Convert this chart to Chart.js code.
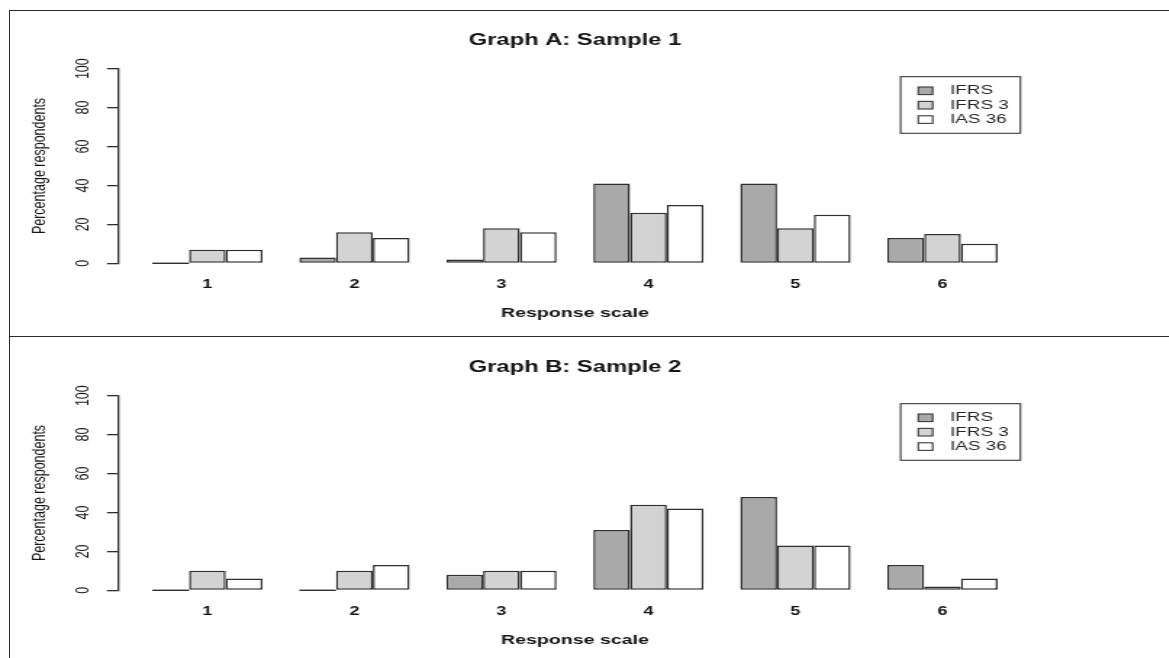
<!DOCTYPE html>
<html>
<head>
<meta charset="utf-8">
<title>Response scale by sample</title>
<script src="https://cdn.jsdelivr.net/npm/chart.js@4.4.1/dist/chart.umd.min.js"></script>
<style>
    html, body { margin: 0; padding: 0; background: #fff; }
    body { width: 1169px; height: 658px; overflow: hidden; position: relative; }
    /* the source picture is stretched sideways, so each chart is drawn narrow and widened */
    .panel { position: absolute; left: 0; width: 806px; height: 327px; transform: scaleX(1.45); transform-origin: 0 0; }
    .frame { position: absolute; left: 9px; width: 1300px; border-left: 1.5px solid #2a2a2a; border-top: 1.5px solid #2a2a2a; }
</style>
</head>
<body>
<div class="frame" style="top:10px; height:326px;"></div>
<div class="frame" style="top:336px; height:400px;"></div>
<div class="panel" style="top:0;"><canvas id="chartA" width="806" height="327"></canvas></div>
<div class="panel" style="top:327px;"><canvas id="chartB" width="806" height="327"></canvas></div>

<script>
// Data
const categories = ['1', '2', '3', '4', '5', '6'];
const seriesNames = ['IFRS', 'IFRS 3', 'IAS 36'];
const yTicks = [0, 20, 40, 60, 80, 100];

const sample1Ifrs = [0, 3, 2, 41, 41, 13];
const sample1Ifrs3 = [7, 16, 18, 26, 18, 15];
const sample1Ias36 = [7, 13, 16, 30, 25, 10];

const sample2Ifrs = [0, 0, 8, 31, 48, 13];
const sample2Ifrs3 = [10, 10, 10, 44, 23, 2];
const sample2Ias36 = [6, 13, 10, 42, 23, 6];

// Styles
const FONT = "'Liberation Sans', Arial, Helvetica, sans-serif";
const TEXT = '#141414';
const EDGE = '#2e2e2e';
const seriesFills = ['#a9a9a9', '#d3d3d3', '#ffffff'];

// R draws zero-height bars as a flat line on the baseline
const zeroBars = {
    id: 'zeroBars',
    afterDatasetsDraw(chart) {
        const ctx = chart.ctx;
        ctx.save();
        ctx.strokeStyle = EDGE;
        ctx.lineWidth = 1.4;
        chart.data.datasets.forEach((ds, d) => {
            chart.getDatasetMeta(d).data.forEach((bar, i) => {
                if (ds.data[i].y !== 0) return;
                ctx.beginPath();
                ctx.moveTo(bar.x - bar.width / 2, bar.base);
                ctx.lineTo(bar.x + bar.width / 2, bar.base);
                ctx.stroke();
            });
        });
        ctx.restore();
    }
};

// Boxed legend inside the plot, top right
const boxLegend = {
    id: 'boxLegend',
    afterDraw(chart) {
        const { ctx, chartArea } = chart;
        const w = 82.6, h = 56.6;
        const left = chartArea.right - 7.6 - w;
        const top = chartArea.top + 8;
        ctx.save();
        ctx.strokeStyle = '#3a3a3a';
        ctx.lineWidth = 1.1;
        ctx.strokeRect(left, top, w, h);
        ctx.font = `13px ${FONT}`;
        ctx.textBaseline = 'middle';
        chart.data.datasets.forEach((ds, i) => {
            const cy = top + 14.1 + i * 14.4;
            ctx.fillStyle = ds.backgroundColor;
            ctx.fillRect(left + 12.2, cy - 3.8, 9.9, 7.6);
            ctx.strokeRect(left + 12.2, cy - 3.8, 9.9, 7.6);
            ctx.fillStyle = '#262626';
            ctx.fillText(ds.label, left + 34.1, cy);
        });
        ctx.restore();
    }
};

function buildDatasets(series) {
    return series.map((values, s) => ({
        label: seriesNames[s],
        data: values.map((v, i) => ({ x: i + 1, y: v })),
        backgroundColor: seriesFills[s],
        borderColor: EDGE,
        borderWidth: 1.5,
        borderSkipped: false,
        categoryPercentage: 0.75,
        barPercentage: 1
    }));
}

function makeChart(canvasId, titleText, series) {
    const ctx = document.getElementById(canvasId).getContext('2d');
    return new Chart(ctx, {
        type: 'bar',
        data: { datasets: buildDatasets(series) },
        plugins: [zeroBars, boxLegend],
        options: {
            responsive: false,
            animation: false,
            events: [],
            layout: { padding: { left: 0, right: 94.7, top: 0, bottom: 0 } },
            plugins: {
                legend: { display: false },
                tooltip: { enabled: false },
                title: {
                    display: true,
                    text: titleText,
                    fullSize: false,
                    color: TEXT,
                    font: { family: FONT, size: 16.4, weight: 'bold', lineHeight: 1.2 },
                    padding: { top: 30.2, bottom: 18.8 }
                }
            },
            scales: {
                x: {
                    type: 'linear',
                    min: 0.395,
                    max: 6.605,
                    offset: false,
                    afterBuildTicks: (scale) => {
                        scale.ticks = categories.map((c, i) => ({ value: i + 1 }));
                    },
                    afterFit: (scale) => { scale.height = 63.7; },
                    grid: { display: false, drawTicks: false },
                    border: { display: false },
                    ticks: {
                        autoSkip: false,
                        maxRotation: 0,
                        padding: 14.2,
                        color: TEXT,
                        font: { family: FONT, size: 12.5, weight: 'bold', lineHeight: 1.2 },
                        callback: (value, index) => categories[index]
                    },
                    title: {
                        display: true,
                        text: 'Response scale',
                        color: TEXT,
                        font: { family: FONT, size: 13.5, weight: 'bold', lineHeight: 1.2 },
                        padding: { top: 0, bottom: 5.6 }
                    }
                },
                y: {
                    min: 0,
                    max: 100,
                    afterBuildTicks: (scale) => {
                        scale.ticks = yTicks.map(v => ({ value: v }));
                    },
                    afterFit: (scale) => { scale.width = 81.7; },
                    grid: { drawOnChartArea: false, drawTicks: true, tickLength: 7.9, color: EDGE, lineWidth: 1.3 },
                    border: { display: true, color: EDGE, width: 1.3 },
                    ticks: {
                        minRotation: 90,
                        maxRotation: 90,
                        crossAlign: 'center',
                        padding: 6.2,
                        color: TEXT,
                        font: { family: FONT, size: 12.5, lineHeight: 1.2 }
                    },
                    title: {
                        display: true,
                        text: 'Percentage respondents',
                        color: TEXT,
                        font: { family: FONT, size: 12.5, lineHeight: 1.2 },
                        padding: { top: 19.7, bottom: 0 }
                    }
                }
            }
        }
    });
}

makeChart('chartA', 'Graph A: Sample 1', [sample1Ifrs, sample1Ifrs3, sample1Ias36]);
makeChart('chartB', 'Graph B: Sample 2', [sample2Ifrs, sample2Ifrs3, sample2Ias36]);
</script>
</body>
</html>
